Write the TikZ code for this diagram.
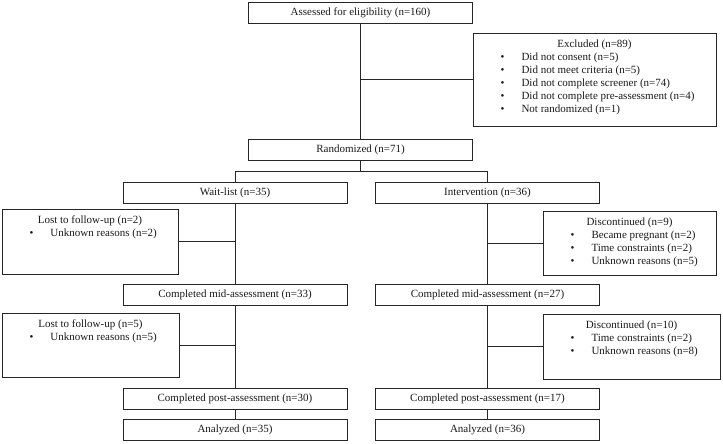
\documentclass[tikz,border=0pt]{standalone}
\usepackage{fontspec}
\setmainfont{Liberation Serif}
\usetikzlibrary{positioning}

\newcommand{\bul}[1]{\par\hspace*{27.5pt}\makebox[21pt][l]{\textbullet}#1}
\newcommand{\listtext}[4]{\parbox[t][#2][t]{#1}{\vspace*{6.5pt}\centering #3\par\raggedright #4}}

\begin{document}
\begin{tikzpicture}[x=1pt, y=-1pt, font=\fontsize{11}{13}\selectfont, text=black!90,
    box/.style={draw=black!85, line width=0.9pt, minimum width=224pt, minimum height=21pt, inner sep=0pt},
    listbox/.style={draw=black!85, line width=0.9pt, inner sep=0pt},
    line/.style={draw=black!85, line width=0.9pt}]
    \useasboundingbox (0,0) rectangle (723,444);

    \node [box] (assess) at (360.5, 12.8) {Assessed for eligibility (n=160)};
    \node [listbox] (excl) at (594.5, 79.5) {\listtext{243pt}{93pt}{Excluded (n=89)}{%
        \bul{Did not consent (n=5)}\bul{Did not meet criteria (n=5)}%
        \bul{Did not complete screener (n=74)}\bul{Did not complete pre-assessment (n=4)}%
        \bul{Not randomized (n=1)}}};
    \node [box] (rand) at (360.5, 149.5) {Randomized (n=71)};

    \node [box] (wait) at (235, 192.5) {Wait-list (n=35)};
    \node [box] (interv) at (487.5, 192.5) {Intervention (n=36)};

    \node [listbox] (lost1) at (90, 241.5) {\listtext{176pt}{65pt}{Lost to follow-up (n=2)}{%
        \bul{Unknown reasons (n=2)}}};
    \node [listbox] (disc1) at (629.5, 243.5) {\listtext{173pt}{64pt}{Discontinued (n=9)}{%
        \bul{Became pregnant (n=2)}\bul{Time constraints (n=2)}\bul{Unknown reasons (n=5)}}};

    \node [box] (midW) at (235, 294.5) {Completed mid-assessment (n=33)};
    \node [box] (midI) at (487.5, 294.5) {Completed mid-assessment (n=27)};

    \node [listbox] (lost2) at (90.5, 345.5) {\listtext{177pt}{64pt}{Lost to follow-up (n=5)}{%
        \bul{Unknown reasons (n=5)}}};
    \node [listbox] (disc2) at (631.5, 346.5) {\listtext{177pt}{65pt}{Discontinued (n=10)}{%
        \bul{Time constraints (n=2)}\bul{Unknown reasons (n=8)}}};

    \node [box] (postW) at (235, 398.5) {Completed post-assessment (n=30)};
    \node [box] (postI) at (487.5, 398.5) {Completed post-assessment (n=17)};
    \node [box] (anaW) at (235, 430) {Analyzed (n=35)};
    \node [box] (anaI) at (487.5, 430) {Analyzed (n=36)};

    % connectors
    \coordinate (split) at (360.5, 171.5);
    \draw [line] (assess) -- (rand);
    \draw [line] (excl.west) -- (excl.west -| assess.south);
    \draw [line] (rand) -- (split);
    \draw [line] (wait.north) |- (split);
    \draw [line] (interv.north) |- (split);

    \draw [line] (wait) -- (midW) -- (postW) -- (anaW);
    \draw [line] (interv) -- (midI) -- (postI) -- (anaI);

    \draw [line] (lost1.east) -- (lost1.east -| wait.south);
    \draw [line] (disc1.west) -- (disc1.west -| interv.south);
    \draw [line] (lost2.east) -- (lost2.east -| midW.south);
    \draw [line] (disc2.west) -- (disc2.west -| midI.south);
\end{tikzpicture}
\end{document}
